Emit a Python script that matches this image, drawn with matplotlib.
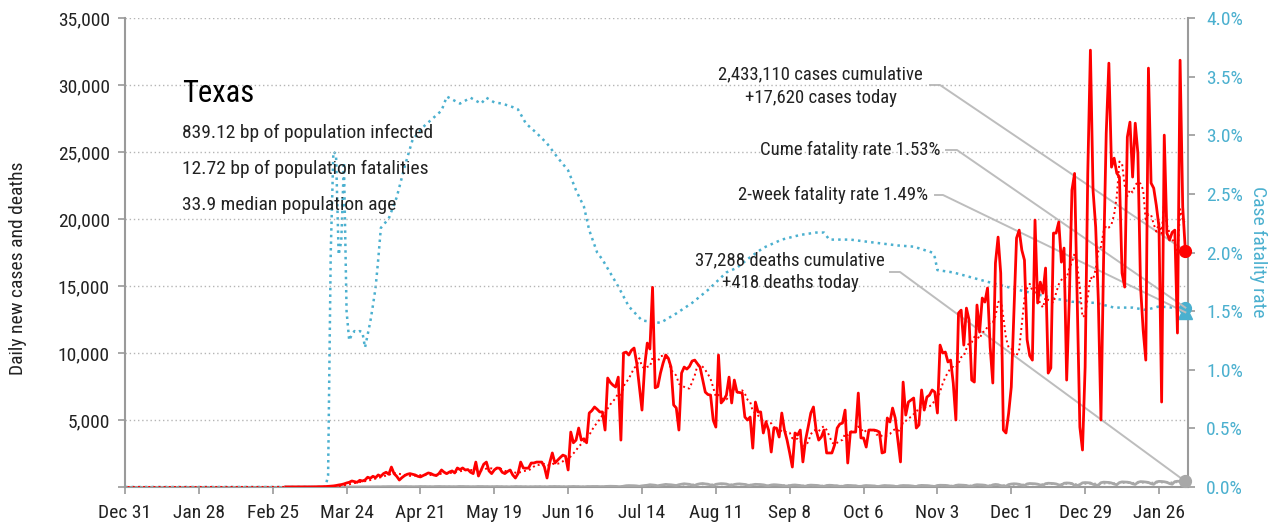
import numpy as np
import pandas as pd
import matplotlib
matplotlib.use("Agg")
import matplotlib.pyplot as plt
import matplotlib.dates as mdates
from matplotlib import font_manager as fm
from matplotlib.lines import Line2D

# ---- data (Texas, daily from 2020-01-01 to 2021-02-05) ----
# nothing reported before March: flat zero along the baseline
cases_jan_feb = [0] * 60
deaths_jan_feb = [0] * 60

cases_mar = [0, 0, 0, 1, 3, 2, 3, 2, 5, 3, 6, 9, 13, 17, 25, 30, 45, 60, 80, 110, 150, 180, 230, 300, 350,
             450, 400, 350, 500, 450, 520]
cases_apr = [730, 650, 800, 700, 900, 800, 1000, 1100, 950, 1490, 1000, 800, 520, 700, 850, 950, 1000, 950,
             900, 800, 750, 850, 950, 1050, 1000, 900, 850, 1000, 1270, 1100]
cases_may = [1000, 1120, 1200, 1050, 1420, 1300, 1420, 1270, 1300, 1100, 1000, 1860, 820, 1270, 1700, 1860,
             1200, 1000, 1270, 1420, 1400, 1100, 1000, 1150, 1270, 900, 670, 1000, 1860, 1420, 1400]
cases_jun = [1420, 1790, 1790, 1860, 1860, 1860, 1500, 670, 1800, 2540, 1790, 2000, 2200, 2380, 2300, 1270,
             4100, 3300, 3500, 4400, 3500, 3600, 3300, 5520, 5700, 5970, 5800, 5600, 5600, 4250]
cases_jul = [8130, 7800, 7600, 7460, 8200, 3500, 10000, 10070, 9850, 10200, 10370, 9250, 7500, 5740, 9000,
             10740, 10300, 14900, 7400, 7500, 8500, 9250, 9850, 9600, 8950, 6120, 5900, 4250, 8500, 8950, 8800]
cases_aug = [9000, 9400, 9470, 9200, 8950, 8000, 7080, 6900, 6860, 4990, 4470, 9850, 6270, 6500, 6860, 8200,
             6270, 7980, 7090, 7050, 7010, 5220, 5000, 5220, 2900, 6340, 5600, 5600, 4030, 4850, 4250]
cases_sep = [2610, 4400, 4400, 3730, 5520, 4250, 3500, 2540, 1490, 4030, 3880, 4250, 1870, 3500, 4480, 5520,
             5970, 4250, 3500, 3730, 4250, 2540, 2540, 2540, 3130, 4400, 4700, 4770, 5740, 1790]
cases_oct = [4100, 4100, 4100, 7010, 3660, 3660, 2980, 4250, 4250, 4250, 4200, 4100, 2540, 2610, 5150, 4850,
             5890, 5150, 3500, 1870, 7830, 5370, 6340, 6490, 6640, 4400, 4630, 7240, 5740, 6710, 6860]
cases_nov = [7240, 7090, 5520, 10590, 10000, 10070, 9330, 9470, 7760, 5000, 12980, 13200, 10590, 13350, 12460,
             7980, 7830, 13580, 11560, 14100, 13800, 14850, 10440, 7760, 16710, 18650, 15960, 4250, 4030, 5500]
cases_dec = [7460, 12980, 18580, 19170, 17680, 16930, 11000, 9800, 9470, 19920, 13730, 15290, 14470, 16340,
             8500, 8880, 18950, 18950, 19770, 16780, 17830, 7980, 14000, 22160, 23400, 14000, 4480, 2760, 8950,
             23420, 32600]
cases_jan = [22160, 19400, 13950, 5000, 17000, 26400, 31630, 23870, 24540, 23420, 23130, 15960, 14920, 26110,
             27230, 23130, 27150, 24900, 15000, 11710, 9470, 31260, 22680, 22300, 21000, 19400, 6340, 26260,
             18950, 18430, 19000]
cases_feb = [19170, 11490, 31850, 20890, 17620]

deaths_mar = [0, 0, 0, 0, 0, 0, 0, 0, 0, 0, 0, 0, 0, 0, 0, 0, 1, 1, 2, 1, 3, 2, 4, 5, 3, 6, 7, 5, 9, 10, 8]
deaths_apr = [12, 15, 10, 20, 18, 14, 25, 22, 30, 28, 20, 17, 24, 30, 32, 28, 26, 20, 18, 30, 35, 32, 28, 25,
              22, 20, 35, 38, 30, 28]
deaths_may = [30, 28, 24, 20, 34, 40, 36, 32, 28, 22, 20, 33, 38, 35, 30, 25, 18, 22, 30, 34, 32, 28, 20, 16,
              14, 28, 34, 30, 27, 22, 18]
deaths_jun = [15, 20, 30, 35, 28, 25, 18, 14, 30, 34, 36, 32, 28, 20, 16, 25, 40, 38, 32, 28, 18, 12, 30, 35,
              45, 40, 38, 25, 20, 40]
deaths_jul = [50, 55, 50, 45, 30, 25, 60, 95, 105, 100, 95, 80, 50, 85, 110, 130, 170, 150, 130, 85, 130, 165,
              195, 175, 165, 140, 110, 170, 210, 240, 220]
deaths_aug = [200, 140, 120, 200, 240, 260, 230, 210, 150, 110, 200, 230, 250, 240, 220, 160, 120, 190, 220,
              230, 210, 190, 140, 110, 170, 200, 190, 180, 160, 110, 90]
deaths_sep = [150, 170, 160, 140, 120, 80, 70, 100, 140, 150, 130, 110, 70, 60, 120, 140, 130, 120, 100, 60,
              50, 110, 130, 120, 100, 90, 50, 40, 100, 120]
deaths_oct = [110, 100, 90, 50, 40, 90, 110, 100, 90, 80, 45, 40, 90, 110, 100, 95, 80, 45, 40, 95, 110, 105,
              100, 85, 50, 40, 100, 120, 115, 105, 90]
deaths_nov = [50, 45, 110, 130, 125, 120, 100, 55, 50, 120, 150, 140, 130, 110, 60, 55, 140, 170, 160, 150, 130,
              70, 60, 160, 190, 170, 100, 90, 60, 180]
deaths_dec = [220, 240, 230, 200, 140, 110, 230, 260, 250, 240, 210, 150, 120, 250, 280, 270, 260, 230, 160,
              130, 280, 300, 290, 260, 120, 110, 180, 310, 330, 320, 300]
deaths_jan = [200, 150, 130, 320, 360, 350, 340, 300, 220, 170, 330, 380, 370, 360, 330, 240, 190, 350, 400,
              390, 370, 340, 250, 200, 380, 420, 410, 390, 350, 260, 210]
deaths_feb = [400, 430, 420, 410, 418]

# cumulative case fatality rate (%), read at these dates
cfr_dates = ["2019-12-31", "2020-03-16", "2020-03-17", "2020-03-18", "2020-03-19", "2020-03-20", "2020-03-21",
             "2020-03-22", "2020-03-23", "2020-03-24", "2020-03-25", "2020-03-26", "2020-03-27", "2020-03-28",
             "2020-03-29", "2020-03-30", "2020-03-31", "2020-04-01", "2020-04-02", "2020-04-03", "2020-04-04",
             "2020-04-05", "2020-04-06", "2020-04-09", "2020-04-12", "2020-04-15", "2020-04-18", "2020-04-22",
             "2020-04-26", "2020-04-29", "2020-05-01", "2020-05-06", "2020-05-10", "2020-05-14", "2020-05-16",
             "2020-05-19", "2020-05-22", "2020-05-26", "2020-05-28", "2020-05-31", "2020-06-04", "2020-06-08",
             "2020-06-12", "2020-06-16", "2020-06-19", "2020-06-22", "2020-06-24", "2020-06-27", "2020-06-29",
             "2020-07-05", "2020-07-09", "2020-07-14", "2020-07-21", "2020-07-27", "2020-08-02", "2020-08-08",
             "2020-08-15", "2020-08-19", "2020-08-24", "2020-08-29", "2020-09-05", "2020-09-12", "2020-09-18",
             "2020-09-21", "2020-09-23", "2020-10-01", "2020-10-08", "2020-10-19", "2020-10-25", "2020-11-01",
             "2020-11-02", "2020-11-03", "2020-11-09", "2020-11-22", "2020-12-04", "2020-12-17", "2020-12-24",
             "2021-01-02", "2021-01-09", "2021-01-16", "2021-01-21", "2021-01-26", "2021-01-31", "2021-02-05"]
cfr_values = [0.0, 0.0, 0.1, 2.0, 2.86, 2.84, 1.98, 2.1, 2.77, 1.5, 1.25, 1.30, 1.33, 1.32, 1.33, 1.32, 1.19,
              1.30, 1.41, 1.55, 1.70, 1.94, 2.21, 2.29, 2.47, 2.73, 2.96, 3.07, 3.15, 3.21, 3.33, 3.27, 3.32,
              3.27, 3.32, 3.28, 3.27, 3.24, 3.22, 3.10, 3.02, 2.93, 2.81, 2.70, 2.53, 2.39, 2.19, 2.0, 1.94,
              1.71, 1.54, 1.42, 1.40, 1.48, 1.57, 1.68, 1.83, 1.87, 1.96, 2.04, 2.11, 2.15, 2.17, 2.17, 2.11,
              2.11, 2.09, 2.06, 2.05, 2.0, 1.96, 1.85, 1.83, 1.75, 1.68, 1.61, 1.58, 1.57, 1.53, 1.53, 1.51,
              1.54, 1.53, 1.53]
cfr_2week = 1.49

title = "Texas"
stats = ["839.12 bp of population infected", "12.72 bp of population fatalities", "33.9 median population age"]
cases_label = "2,433,110 cases cumulative\n+17,620 cases today"
deaths_label = "37,288 deaths cumulative\n+418 deaths today"
cume_label = "Cume fatality rate 1.53%"
week_label = "2-week fatality rate 1.49%"

# ---- styling ----
avail = {f.name for f in fm.fontManager.ttflist}
FONT = next(f for f in ["Liberation Sans Narrow", "Roboto Condensed", "DejaVu Sans"] if f in avail)
plt.rcParams["font.family"] = [FONT, "DejaVu Sans"]
RED = "#ff0000"
BLUE = "#4bb0cf"
GRAY = "#a8a8a8"
AXC = "#9a9a9a"
TXT = "#222222"
W, H = 1275, 525

days = pd.date_range("2020-01-01", "2021-02-05", freq="D")
cases = np.concatenate([cases_jan_feb, cases_mar, cases_apr, cases_may, cases_jun, cases_jul, cases_aug,
                        cases_sep, cases_oct, cases_nov, cases_dec, cases_jan, cases_feb]).astype(float)
deaths = np.concatenate([deaths_jan_feb, deaths_mar, deaths_apr, deaths_may, deaths_jun, deaths_jul,
                         deaths_aug, deaths_sep, deaths_oct, deaths_nov, deaths_dec, deaths_jan,
                         deaths_feb]).astype(float)
cases_avg = pd.Series(cases).rolling(7, min_periods=1).mean()
deaths_avg = pd.Series(deaths).rolling(7, min_periods=1).mean()
cfr_x = pd.to_datetime(cfr_dates)
first = len(cases_jan_feb)  # daily solid lines start once reporting begins

fig = plt.figure(figsize=(W / 100, H / 100), dpi=100)
ax = fig.add_axes([125 / W, 38 / H, 1063 / W, 469 / H])
ax2 = ax.twinx()

ax.plot(days[first:], deaths[first:], color=GRAY, lw=2, zorder=3)
ax.plot(days, deaths_avg, color=GRAY, lw=1.3, ls=":", zorder=3)
ax.plot(days, cases_avg, color=RED, lw=1.4, ls=":", zorder=4)
ax.plot(days[first:], cases[first:], color=RED, lw=2, zorder=5)
ax.plot(days[-1], cases[-1], "o", color=RED, ms=8.5, zorder=6, clip_on=False)
ax.plot(days[-1], deaths[-1], "o", color=GRAY, ms=8.5, zorder=6, clip_on=False)

ax2.plot(cfr_x, cfr_values, color=BLUE, lw=1.8, ls=":", zorder=5)
ax2.plot(cfr_x[-1], cfr_values[-1], "o", color=BLUE, ms=8.5, clip_on=False, zorder=6)
ax2.plot(cfr_x[-1], cfr_2week, "^", color=BLUE, ms=9.5, clip_on=False, zorder=6)

start = pd.Timestamp("2019-12-31")
ax.set_xlim(start, pd.Timestamp("2021-02-06"))
ax.set_ylim(0, 35000)
ax2.set_ylim(0, 4)
ax.set_zorder(ax2.get_zorder() + 1)
ax.patch.set_visible(False)

ticks = pd.date_range(start, periods=15, freq="28D")
ax.set_xticks(ticks)
ax.set_xticklabels([f"{t:%b} {t.day}" for t in ticks])
ax.set_yticks(np.arange(0, 35001, 5000))
ax.set_yticklabels(["" if v == 0 else f"{v:,}" for v in range(0, 35001, 5000)])
ax2.set_yticks(np.arange(0, 4.01, 0.5))
ax2.set_yticklabels([f"{v:.1f}%" for v in np.arange(0, 4.01, 0.5)])
ax.grid(axis="y", color="#b5b5b5", lw=1, ls=(0, (1, 2)))
ax.set_axisbelow(True)

for a in (ax, ax2):
    a.spines["top"].set_visible(False)
    for s in ("left", "right", "bottom"):
        a.spines[s].set_color(AXC)
        a.spines[s].set_linewidth(1.5)
ax.spines["right"].set_visible(False)
ax2.spines["left"].set_visible(False)
ax2.spines["bottom"].set_visible(False)
ax.tick_params(axis="both", colors=AXC, labelcolor=TXT, labelsize=14, length=5, width=1.2)
ax.tick_params(axis="x", pad=7)
ax.tick_params(axis="y", pad=6)
ax2.tick_params(axis="y", colors=AXC, labelcolor=BLUE, labelsize=14, length=5, width=1.2, pad=8)

def fx(px):
    return px / W

def fy(py):
    return 1 - py / H

fig.text(fx(18), fy(268), "Daily new cases and deaths", rotation=90, ha="center", va="center",
         fontsize=14, color=TXT)
fig.text(fx(1258), fy(252), "Case fatality rate", rotation=270, ha="center", va="center",
         fontsize=14, color=BLUE)

fig.text(fx(182), fy(94), title, fontsize=22, color="black", ha="left", va="center")
for i, s in enumerate(stats):
    fig.text(fx(182), fy(133 + 36 * i), s, fontsize=14, color=TXT, ha="left", va="center")

fig.text(fx(923), fy(86), cases_label, fontsize=13.5, color=TXT, ha="right", va="center",
         multialignment="center", linespacing=1.4)
fig.text(fx(940), fy(150), cume_label, fontsize=13.5, color=TXT, ha="right", va="center")
fig.text(fx(928), fy(195), week_label, fontsize=13.5, color=TXT, ha="right", va="center")
fig.text(fx(885), fy(272), deaths_label, fontsize=13.5, color=TXT, ha="right", va="center",
         multialignment="center", linespacing=1.35)

# leader lines from labels to the latest values
to_fig = fig.transFigure.inverted()

def leader(a, x, y, x0, x1, ypx):
    end = to_fig.transform(a.transData.transform((mdates.date2num(x), y)))
    fig.add_artist(Line2D([fx(x0), fx(x1), end[0]], [fy(ypx), fy(ypx), end[1]],
                          transform=fig.transFigure, color="#bdbdbd", lw=1.4, zorder=1))

leader(ax, days[-1], cases[-1], 930, 940, 85)
leader(ax2, cfr_x[-1], cfr_values[-1], 946, 957, 150)
leader(ax2, cfr_x[-1], cfr_2week, 935, 943, 195)
leader(ax, days[-1], deaths[-1], 890, 900, 272)

fig.savefig("out.png", dpi=100)
